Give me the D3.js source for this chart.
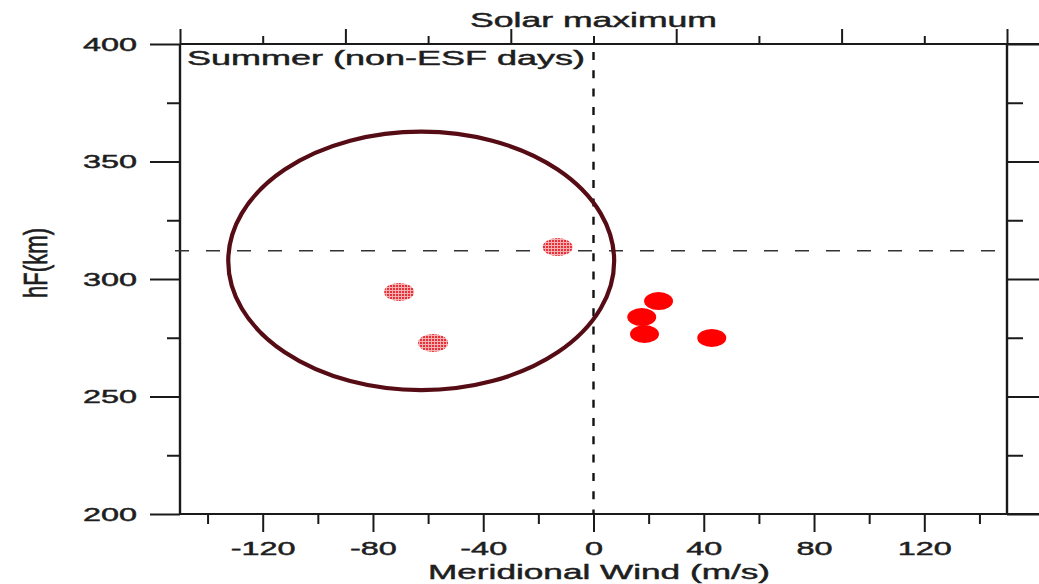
<!DOCTYPE html>
<html>
<head>
<meta charset="utf-8">
<script src="https://cdn.jsdelivr.net/npm/d3@7"></script>
<style>
  html, body { margin: 0; padding: 0; background: #ffffff; }
  svg { display: block; }
  text { font-family: "Liberation Sans", Arial, Helvetica, sans-serif; fill: #1e1e1e; stroke: #1e1e1e; stroke-width: 0.45px; }
</style>
</head>
<body>
<svg id="chart" width="1039" height="584"></svg>
<script>
// ---------------- data ----------------
const chartTitle = "Solar maximum";
const panelLabel = "Summer (non-ESF days)";
const xTitle = "Meridional Wind (m/s)";
const yTitle = "hF(km)";

const xDomain = [-150, 150];
const yDomain = [200, 400];

const xMajorTicks = [-120, -80, -40, 0, 40, 80, 120];
const xMinorTicks = [-140, -100, -60, -20, 20, 60, 100, 140];
const topMajorTicks = [-150, -90, -30, 30, 90, 150];
const topMinorTicks = [-120, -60, 0, 60, 120];
const yMajorTicks = [200, 250, 300, 350, 400];
const yMinorTicks = [225, 275, 325, 375];

// circled (poleward wind) days
const circledWind = [-13, -70.5, -58.2];
const circledHeight = [313.6, 294.5, 272.8];
// other days (equatorward wind)
const otherWind = [23.6, 17.5, 18.5, 42.9];
const otherHeight = [290.6, 283.8, 276.6, 274.9];

// reference lines
const refWind = 0;
const refHeight = 312;

// annotation ellipse (data units): center and radii
const ringCenter = [-62.5, 307.7];
const ringRadii = [70, 55];

// ---------------- drawing ----------------
const svg = d3.select("#chart");
const SX = 1.8; // horizontal text stretch of the original image

const x = d3.scaleLinear().domain(xDomain).range([180, 1007]);
const y = d3.scaleLinear().domain(yDomain).range([514, 44]);

const axisColor = "#1a1a1a";

function styleAxis(g) {
  g.selectAll("path.domain").remove();
  g.selectAll(".tick line").attr("stroke", axisColor).attr("stroke-width", 2);
}

// left axis (major with labels)
const gLeft = svg.append("g").attr("transform", `translate(${x(xDomain[0])},0)`)
  .call(d3.axisLeft(y).tickValues(yMajorTicks).tickSize(30).tickPadding(0).tickFormat(d3.format("d")));
styleAxis(gLeft);
gLeft.selectAll(".tick text")
  .attr("x", -43 / SX).attr("dy", "0.36em")
  .attr("transform", `scale(${SX},1)`)
  .style("font-size", "18px");
const gLeftMinor = svg.append("g").attr("transform", `translate(${x(xDomain[0])},0)`)
  .call(d3.axisLeft(y).tickValues(yMinorTicks).tickSize(13).tickFormat(""));
styleAxis(gLeftMinor);

// right axis
const gRight = svg.append("g").attr("transform", `translate(${x(xDomain[1])},0)`)
  .call(d3.axisRight(y).tickValues(yMajorTicks).tickSize(32).tickFormat(""));
styleAxis(gRight);
const gRightMinor = svg.append("g").attr("transform", `translate(${x(xDomain[1])},0)`)
  .call(d3.axisRight(y).tickValues(yMinorTicks).tickSize(16).tickFormat(""));
styleAxis(gRightMinor);

// bottom axis
const gBottom = svg.append("g").attr("transform", `translate(0,${y(yDomain[0])})`)
  .call(d3.axisBottom(x).tickValues(xMajorTicks).tickSize(18).tickPadding(0).tickFormat(d3.format("d")));
styleAxis(gBottom);
gBottom.selectAll(".tick text")
  .attr("y", 0).attr("dy", 0)
  .attr("transform", `translate(0,41) scale(${SX},1)`)
  .style("font-size", "18px")
  .text(d => d < 0 ? "-" + Math.abs(d) : String(d));
const gBottomMinor = svg.append("g").attr("transform", `translate(0,${y(yDomain[0])})`)
  .call(d3.axisBottom(x).tickValues(xMinorTicks).tickSize(10).tickFormat(""));
styleAxis(gBottomMinor);

// top axis
const gTop = svg.append("g").attr("transform", `translate(0,${y(yDomain[1])})`)
  .call(d3.axisTop(x).tickValues(topMajorTicks).tickSize(15).tickFormat(""));
styleAxis(gTop);
const gTopMinor = svg.append("g").attr("transform", `translate(0,${y(yDomain[1])})`)
  .call(d3.axisTop(x).tickValues(topMinorTicks).tickSize(8).tickFormat(""));
styleAxis(gTopMinor);

// frame lines
svg.append("line").attr("x1", x(xDomain[0])).attr("x2", x(xDomain[0]))
  .attr("y1", y(yDomain[1])).attr("y2", y(yDomain[0]))
  .attr("stroke", axisColor).attr("stroke-width", 2.4);
svg.append("line").attr("x1", x(xDomain[1])).attr("x2", x(xDomain[1]))
  .attr("y1", y(yDomain[1])).attr("y2", y(yDomain[0]))
  .attr("stroke", axisColor).attr("stroke-width", 2.4);
svg.append("line").attr("x1", x(xDomain[0])).attr("x2", 1039)
  .attr("y1", y(yDomain[0])).attr("y2", y(yDomain[0]))
  .attr("stroke", axisColor).attr("stroke-width", 2);
svg.append("line").attr("x1", x(xDomain[0])).attr("x2", 1039)
  .attr("y1", y(yDomain[1])).attr("y2", y(yDomain[1]))
  .attr("stroke", axisColor).attr("stroke-width", 2);

// reference dashed lines
svg.append("line")
  .attr("x1", x(refWind)).attr("x2", x(refWind))
  .attr("y1", y(yDomain[1])).attr("y2", y(yDomain[0]))
  .attr("stroke", "#111").attr("stroke-width", 2.4)
  .attr("stroke-dasharray", "8,10.3").attr("stroke-dashoffset", 10.3);
svg.append("line")
  .attr("x1", x(xDomain[0]) - 5).attr("x2", x(xDomain[1]) + 1)
  .attr("y1", y(refHeight)).attr("y2", y(refHeight))
  .attr("stroke", "#333").attr("stroke-width", 1.6)
  .attr("stroke-dasharray", "14,17");

// stipple pattern for circled points
const defs = svg.append("defs");
const pat = defs.append("pattern").attr("id", "stipple")
  .attr("patternUnits", "userSpaceOnUse").attr("width", 3).attr("height", 3);
pat.append("rect").attr("width", 3).attr("height", 3).attr("fill", "#e8303a");
pat.append("rect").attr("x", 2).attr("y", 0).attr("width", 1).attr("height", 3).attr("fill", "#f7b0b0");
pat.append("rect").attr("x", 0).attr("y", 2).attr("width", 3).attr("height", 1).attr("fill", "#f7b0b0");

// points
const circled = circledWind.map((w, i) => ({w, h: circledHeight[i]}));
const other = otherWind.map((w, i) => ({w, h: otherHeight[i]}));

svg.append("g").selectAll("ellipse").data(circled).join("ellipse")
  .attr("cx", d => x(d.w)).attr("cy", d => y(d.h))
  .attr("rx", 15).attr("ry", 9)
  .attr("fill", "url(#stipple)");

svg.append("g").selectAll("ellipse").data(other).join("ellipse")
  .attr("cx", d => x(d.w)).attr("cy", d => y(d.h))
  .attr("rx", 14.5).attr("ry", 9)
  .attr("fill", "#ff0000");

// annotation ring
svg.append("ellipse")
  .attr("cx", x(ringCenter[0])).attr("cy", y(ringCenter[1]))
  .attr("rx", x(ringCenter[0] + ringRadii[0]) - x(ringCenter[0]))
  .attr("ry", y(ringCenter[1] - ringRadii[1]) - y(ringCenter[1]))
  .attr("fill", "none").attr("stroke", "#560c14").attr("stroke-width", 4.2);

// texts
function stretchedText(tx, ty, str, size, anchor, len) {
  const t = svg.append("text")
    .attr("x", tx).attr("y", ty)
    .attr("text-anchor", anchor)
    .style("font-size", size + "px")
    .text(str);
  if (len) t.attr("textLength", len).attr("lengthAdjust", "spacingAndGlyphs");
  return t;
}
stretchedText(470, 27, chartTitle, 19.5, "start", 247);
stretchedText(187, 65, panelLabel, 20, "start", 398);
stretchedText(428, 579, xTitle, 20, "start", 342);

svg.append("text")
  .attr("transform", `translate(47,298) scale(1.55,1) rotate(-90)`)
  .attr("x", 0).attr("y", 0)
  .attr("text-anchor", "start")
  .attr("textLength", 70).attr("lengthAdjust", "spacingAndGlyphs")
  .style("font-size", "21px")
  .text(yTitle);
</script>
</body>
</html>
